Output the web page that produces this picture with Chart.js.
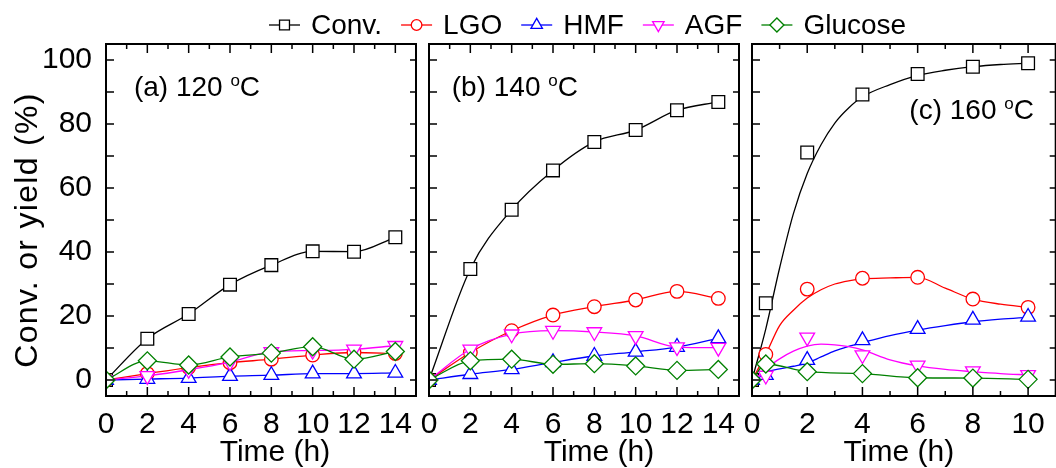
<!DOCTYPE html>
<html>
<head>
<meta charset="utf-8">
<script src="https://cdn.jsdelivr.net/npm/chart.js@4.4.1/dist/chart.umd.min.js"></script>
<style>
    html, body { margin: 0; padding: 0; background: #fff; overflow: hidden; }
    #wrap { position: relative; width: 1056px; height: 468px; overflow: hidden; }
    #wrap canvas { position: absolute; left: 0; top: 0; }
</style>
</head>
<body>
<div id="wrap">
    <canvas id="chartA" width="1066" height="468"></canvas>
    <canvas id="chartB" width="1066" height="468"></canvas>
    <canvas id="chartC" width="1066" height="468"></canvas>
</div>
<script>
// ---- values ----
const seriesNames = ['Conv.', 'LGO', 'HMF', 'AGF', 'Glucose'];

const timeAB = [0, 2, 4, 6, 8, 10, 12, 14];
const timeTicksAB = [0, 2, 4, 6, 8, 10, 12, 14];
const timeC = [0, 0.5, 2, 4, 6, 8, 10];
const timeTicksC = [0, 2, 4, 6, 8, 10];
const yTicks = [0, 20, 40, 60, 80, 100];

// (a) 120 oC
const convA = [0, 12.9, 20.6, 29.8, 35.9, 40.2, 40.1, 44.6];
const lgoA = [0, 2.0, 3.9, 5.4, 6.5, 7.8, 8.6, 8.3];
const hmfA = [0, 0.3, 0.6, 1.2, 1.5, 2.0, 2.0, 2.2];
const agfA = [0, 1.3, 3.2, 5.6, 8.8, 9.2, 9.6, 10.7];
const glucoseA = [0, 6.0, 4.7, 7.2, 8.4, 10.4, 6.5, 8.9];

// (b) 140 oC
const convB = [0, 34.7, 53.2, 65.5, 74.4, 78.1, 84.3, 86.9];
const lgoB = [0, 8.6, 15.4, 20.3, 22.9, 25.0, 27.7, 25.5];
const hmfB = [0, 1.8, 3.3, 5.5, 7.5, 8.8, 10.3, 13.0];
const agfB = [0, 9.6, 14.3, 15.4, 15.0, 13.8, 10.3, 10.1];
const glucoseB = [0, 6.0, 6.5, 4.9, 5.1, 4.4, 3.0, 3.3];

// (c) 160 oC, measured points
const convC = [0, 24.0, 71.1, 89.2, 95.6, 97.9, 99.0];
const lgoC = [0, 8.0, 28.4, 31.8, 32.1, 25.3, 22.7];
const hmfC = [0, 1.5, 6.2, 12.4, 15.9, 18.8, 19.7];
const agfC = [0, 1.4, 13.3, 7.8, 4.6, 2.8, 1.6];
const glucoseC = [0, 5.0, 2.6, 2.0, 0.7, 0.6, 0.2];

// (c) fitted curves
const fitTimeC = [0, 0.5, 1, 1.5, 2, 2.5, 3, 3.5, 4, 5, 6, 7, 8, 9, 10];
const convFitC = [0, 16, 35, 52, 64.5, 73.5, 80.3, 85, 88.5, 92.3, 95.2, 96.8, 97.9, 98.6, 99.0];
const lgoFitC = [0, 8, 17, 21.8, 25.6, 28.2, 30.0, 31.0, 31.6, 31.9, 32.1, 28.7, 25.3, 23.7, 22.7];
const hmfFitC = [0, 2.5, 3.5, 4.3, 5.3, 7.2, 9.1, 10.5, 11.7, 13.9, 15.6, 17.0, 18.2, 19.0, 19.6];
const agfFitC = [0, 3.5, 6.6, 9.0, 10.6, 11.2, 11.0, 10.4, 9.4, 6.3, 4.4, 3.3, 2.6, 2.0, 1.6];

// ---- styles ----
const seriesColors = ['#000000', '#ff0000', '#0000ff', '#ff00ff', '#008000'];
const markerStyles = ['rect', 'circle', 'triangle', 'triangle', 'rectRot'];
const markerRotation = [0, 0, 0, 180, 0];
const markerRadius = [9, 6.8, 8.5, 8.5, 9];
const FONT = "'Liberation Sans', Arial, sans-serif";

function toPoints(xs, ys) {
    return ys.map((v, i) => ({ x: xs[i], y: v }));
}

function seriesDataset(i, xs, ys, showLine) {
    return {
        label: seriesNames[i],
        data: toPoints(xs, ys),
        showLine: showLine,
        borderColor: seriesColors[i],
        borderWidth: 1.3,
        backgroundColor: '#ffffff',
        pointStyle: markerStyles[i],
        pointRotation: markerRotation[i],
        pointRadius: markerRadius[i],
        pointBorderWidth: 1.3,
        pointBackgroundColor: '#ffffff',
        pointBorderColor: seriesColors[i],
        cubicInterpolationMode: 'monotone',
        order: 5 - i
    };
}

function fitDataset(i, xs, ys) {
    return {
        label: seriesNames[i] + ' fit',
        data: toPoints(xs, ys),
        borderColor: seriesColors[i],
        borderWidth: 1.3,
        pointRadius: 0,
        cubicInterpolationMode: 'monotone',
        order: 20 - i
    };
}

// Inward ticks on all four sides plus the frame
const frameTicks = {
    id: 'frameTicks',
    afterDatasetsDraw(chart) {
        const { ctx, chartArea: area } = chart;
        const xs = chart.scales.x, ys = chart.scales.y;
        ctx.save();
        ctx.strokeStyle = '#000';
        ctx.lineWidth = 1.5;
        ctx.beginPath();
        for (let v = Math.ceil(xs.min); v <= xs.max; v += 1) {
            const px = xs.getPixelForValue(v);
            const len = v % 2 === 0 ? 9 : 5;
            ctx.moveTo(px, area.bottom); ctx.lineTo(px, area.bottom - len);
            ctx.moveTo(px, area.top); ctx.lineTo(px, area.top + len);
        }
        for (let v = 0; v <= 100; v += 10) {
            const py = ys.getPixelForValue(v);
            ctx.moveTo(area.left, py); ctx.lineTo(area.left + 8, py);
            ctx.moveTo(area.right, py); ctx.lineTo(area.right - 6, py);
        }
        ctx.stroke();
        ctx.lineWidth = 2;
        ctx.strokeRect(area.left, area.top, area.right - area.left, area.bottom - area.top);
        ctx.restore();
    }
};

// Small shifts / spacing for the axis titles, to sit where the original has them
const titleNudge = {
    id: 'titleNudge',
    afterLayout(chart, args, opts) {
        ['x', 'y'].forEach(id => {
            const scale = chart.scales[id];
            const n = opts && opts[id];
            if (!scale || !n || scale._nudged) return;
            const orig = scale.drawTitle;
            scale.drawTitle = function() {
                const ctx = this.ctx;
                ctx.save();
                ctx.translate(n.dx || 0, n.dy || 0);
                if (n.spacing) ctx.letterSpacing = n.spacing + 'px';
                orig.apply(this, arguments);
                ctx.restore();
            };
            scale._nudged = true;
        });
    }
};

// "(a) 120 oC" style panel label with superscript o
const panelLabel = {
    id: 'panelLabel',
    afterDraw(chart, args, opts) {
        if (!opts || !opts.text) return;
        const ctx = chart.ctx;
        let x = chart.scales.x.getPixelForValue(opts.x);
        const y = chart.scales.y.getPixelForValue(opts.y);
        ctx.save();
        ctx.fillStyle = '#000';
        ctx.textBaseline = 'alphabetic';
        ctx.textAlign = 'left';
        ctx.font = '28px ' + FONT;
        ctx.fillText(opts.text, x, y);
        x += ctx.measureText(opts.text).width;
        ctx.font = '17px ' + FONT;
        ctx.fillText('o', x, y - 10);
        x += ctx.measureText('o').width;
        ctx.font = '28px ' + FONT;
        ctx.fillText('C', x, y);
        ctx.restore();
    }
};

function drawMarker(ctx, style, rotation, cx, cy, r) {
    ctx.beginPath();
    if (style === 'rect') {
        const s = r * Math.SQRT1_2;
        ctx.rect(cx - s, cy - s, 2 * s, 2 * s);
    } else if (style === 'circle') {
        ctx.arc(cx, cy, r, 0, Math.PI * 2);
    } else if (style === 'rectRot') {
        ctx.moveTo(cx - r, cy); ctx.lineTo(cx, cy - r);
        ctx.lineTo(cx + r, cy); ctx.lineTo(cx, cy + r);
        ctx.closePath();
    } else {
        let a = rotation * Math.PI / 180;
        for (let k = 0; k < 3; k++) {
            const px = cx + Math.sin(a) * r, py = cy - Math.cos(a) * r;
            if (k === 0) ctx.moveTo(px, py); else ctx.lineTo(px, py);
            a += Math.PI * 2 / 3;
        }
        ctx.closePath();
    }
    ctx.fill();
    ctx.stroke();
}

// Shared legend across the top of the figure
const topLegend = {
    id: 'topLegend',
    afterDraw(chart) {
        const ctx = chart.ctx;
        const y = 25;
        let left = 269;
        ctx.save();
        ctx.font = '28px ' + FONT;
        ctx.textBaseline = 'middle';
        ctx.textAlign = 'left';
        seriesNames.forEach((name, i) => {
            ctx.strokeStyle = seriesColors[i];
            ctx.lineWidth = 1.3;
            ctx.beginPath();
            ctx.moveTo(left, y); ctx.lineTo(left + 31, y);
            ctx.stroke();
            ctx.fillStyle = '#fff';
            drawMarker(ctx, markerStyles[i], markerRotation[i], left + 15.5, y, markerRadius[i] * 0.78);
            ctx.fillStyle = '#000';
            ctx.fillText(name, left + 42, y + 1);
            left += 42 + ctx.measureText(name).width + 19;
        });
        ctx.restore();
    }
};

function makePanel(canvasId, opts) {
    const showY = opts.showY;
    return new Chart(document.getElementById(canvasId), {
        type: 'line',
        data: { datasets: opts.datasets },
        options: {
            responsive: false,
            animation: false,
            layout: { padding: opts.padding },
            plugins: {
                legend: { display: false },
                tooltip: { enabled: false },
                panelLabel: opts.label,
                titleNudge: opts.nudge
            },
            scales: {
                x: {
                    type: 'linear',
                    min: 0,
                    max: opts.xMax,
                    grid: { display: false, drawTicks: false },
                    border: { display: false },
                    afterBuildTicks: (scale) => { scale.ticks = opts.xTicks.map(v => ({ value: v })); },
                    afterFit: (scale) => { scale.height = 72; },
                    ticks: {
                        autoSkip: false,
                        maxRotation: 0,
                        padding: 11,
                        color: '#000',
                        font: { family: FONT, size: 30 }
                    },
                    title: {
                        display: true,
                        text: 'Time (h)',
                        color: '#000',
                        padding: { top: 0, bottom: -3 },
                        font: { family: FONT, size: 30 }
                    }
                },
                y: {
                    type: 'linear',
                    min: -5,
                    max: 105,
                    display: showY,
                    grid: { display: false, drawTicks: false },
                    border: { display: false },
                    afterBuildTicks: (scale) => { scale.ticks = yTicks.map(v => ({ value: v })); },
                    afterFit: (scale) => { if (showY) scale.width = 106; },
                    ticks: {
                        padding: 14,
                        color: '#000',
                        font: { family: FONT, size: 30 }
                    },
                    title: {
                        display: true,
                        text: 'Conv. or yield (%)',
                        color: '#000',
                        padding: { top: 9, bottom: 0 },
                        font: { family: FONT, size: 32 }
                    }
                }
            }
        },
        plugins: [frameTicks, panelLabel, titleNudge].concat(opts.extraPlugins || [])
    });
}

const panelA = [convA, lgoA, hmfA, agfA, glucoseA];
const panelB = [convB, lgoB, hmfB, agfB, glucoseB];
const panelC = [convC, lgoC, hmfC, agfC, glucoseC];
const fitsC = [convFitC, lgoFitC, hmfFitC, agfFitC];

makePanel('chartA', {
    showY: true,
    padding: { left: 0, right: 650, top: 44, bottom: 0 },
    xMax: 15,
    xTicks: timeTicksAB,
    datasets: panelA.map((vals, i) => seriesDataset(i, timeAB, vals, true)),
    label: { text: '(a) 120 ', x: 1.35, y: 88.7 },
    nudge: { x: { dx: 14 }, y: { dy: 10, spacing: 1.3 } },
    extraPlugins: [topLegend]
});

makePanel('chartB', {
    showY: false,
    padding: { left: 429, right: 327, top: 44, bottom: 0 },
    xMax: 15,
    xTicks: timeTicksAB,
    datasets: panelB.map((vals, i) => seriesDataset(i, timeAB, vals, true)),
    label: { text: '(b) 140 ', x: 1.1, y: 88.7 },
    nudge: { x: { dx: 15 } }
});

makePanel('chartC', {
    showY: false,
    padding: { left: 752, right: 4, top: 44, bottom: 0 },
    xMax: 11,
    xTicks: timeTicksC,
    datasets: panelC.map((vals, i) => seriesDataset(i, timeC, vals, i === 4))
        .concat(fitsC.map((vals, i) => fitDataset(i, fitTimeC, vals))),
    label: { text: '(c) 160 ', x: 5.7, y: 81.5 },
    nudge: { x: { dx: -5 } }
});
</script>
</body>
</html>
